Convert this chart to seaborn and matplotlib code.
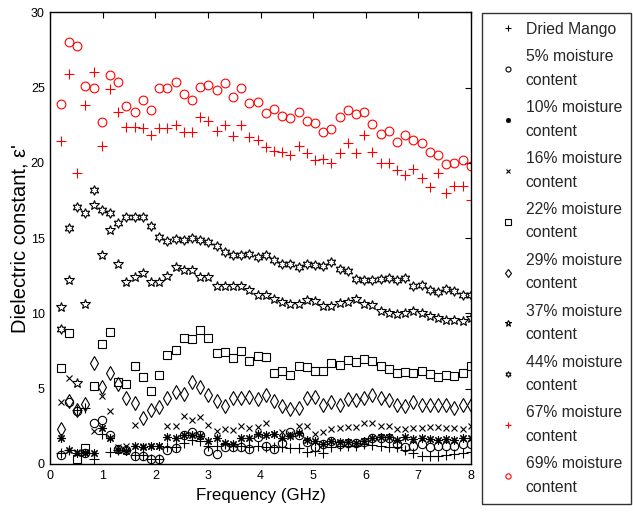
import matplotlib
matplotlib.use("Agg")
import matplotlib.pyplot as plt
import seaborn as sns

FREQ = [0.2, 0.356, 0.512, 0.668, 0.824, 0.98, 1.136, 1.292, 1.448, 1.604,
        1.76, 1.916, 2.072, 2.228, 2.384, 2.54, 2.696, 2.852, 3.008, 3.164,
        3.32, 3.476, 3.632, 3.788, 3.944, 4.1, 4.256, 4.412, 4.568, 4.724,
        4.88, 5.036, 5.192, 5.348, 5.504, 5.66, 5.816, 5.972, 6.128, 6.284,
        6.44, 6.596, 6.752, 6.908, 7.064, 7.22, 7.376, 7.532, 7.688, 7.844, 8.0]

DRIED = [0.7, 0.9, 3.6, 3.7, 0.3, 2.0, 0.8, 0.9, 0.9, 0.6, 0.6, 0.3, 0.3, 1.1, 1.1, 1.4, 1.6,
         1.5, 1.2, 1.2, 1.3, 1.2, 1.2, 1.15,
         1.2, 1.15, 1.1, 1.1, 1.05, 1.05, 0.8, 0.85, 0.7, 1.1, 1.2, 1.2, 1.2, 1.3, 1.25, 1.2,
         1.1, 1.1, 0.9, 0.7, 0.55, 0.55, 0.55, 0.6, 0.65, 0.7, 0.8]
M05 = [0.6, 4.1, 3.55, 0.75, 2.7, 2.9, 1.9, 1.0, 0.9, 0.55, 0.5, 0.3, 0.35, 0.95, 1.05, 1.95,
       2.1, 1.9, 0.85, 0.65, 1.1, 1.15, 1.1, 1.0,
       1.8, 1.2, 1.0, 1.4, 2.15, 1.95, 1.45, 1.1, 1.3, 1.5, 1.35, 1.4, 1.4, 1.45, 1.7, 1.75,
       1.75, 1.35, 1.1, 1.2, 1.3, 1.15, 1.2, 1.2, 1.2, 1.3, 1.3]
M10 = [1.75, 0.9, 0.7, 0.75, 0.7, 2.4, 1.75, 0.95, 0.85, 1.2, 1.15, 1.2, 1.2, 1.8, 1.75, 1.95,
       1.9, 1.85, 1.55, 1.75, 1.4, 1.3, 1.75, 1.75,
       2.0, 1.9, 2.0, 1.75, 1.85, 2.05, 1.6, 1.55, 1.3, 1.55, 1.45, 1.45, 1.4, 1.55, 1.75, 1.8,
       1.8, 1.6, 1.8, 1.65, 1.75, 1.65, 1.6, 1.65, 1.6, 1.75, 1.7]
M16 = [4.1, 5.7, 0.8, 0.8, 2.2, 4.5, 3.5, 1.1, 1.2, 2.6, 1.2, 1.2, 1.2, 2.55, 2.5, 3.2, 2.9,
       3.1, 2.6, 2.2, 2.3, 2.25, 2.5, 2.4,
       2.45, 2.75, 2.0, 2.1, 2.0, 2.55, 2.5, 2.0, 2.1, 2.3, 2.4, 2.45, 2.45, 2.7, 2.75, 2.55,
       2.5, 2.3, 2.35, 2.4, 2.4, 2.45, 2.45, 2.4, 2.4, 2.3, 2.5]
M22 = [6.4, 8.7, 0.35, 1.05, 5.2, 8.0, 8.75, 5.45, 5.3, 6.5, 5.8, 4.85, 5.9, 7.25, 7.6, 8.4,
       8.3, 8.9, 8.4, 7.35, 7.45, 7.05, 7.5, 6.85,
       7.15, 7.1, 6.05, 6.15, 5.9, 6.5, 6.45, 6.2, 6.15, 6.7, 6.55, 6.9, 6.75, 7.0, 6.85, 6.5,
       6.3, 6.05, 6.1, 6.05, 6.2, 5.95, 5.8, 5.9, 5.85, 6.05, 6.5]
M29 = [2.35, 4.2, 3.6, 4.0, 6.7, 5.1, 6.05, 5.3, 4.4, 4.05, 3.05, 3.6, 3.8, 4.35, 4.75, 4.65,
       5.45, 5.1, 4.6, 4.15, 3.85, 4.35, 4.4, 4.45,
       4.3, 4.55, 4.2, 3.85, 3.65, 3.75, 4.4, 4.45, 3.95, 4.1, 3.9, 4.3, 4.25, 4.4, 4.55, 4.35,
       4.25, 3.95, 3.85, 4.1, 3.9, 3.95, 3.9, 3.95, 3.75, 3.95, 3.95]
M37 = [10.4, 12.2, 5.4, 10.6, 17.2, 13.85, 15.55, 13.3, 12.1, 12.4, 12.7, 12.1, 12.1, 12.5,
       13.05, 12.9, 12.9, 12.45, 12.4, 11.8, 11.85, 11.8, 11.8, 11.55,
       11.2, 11.25, 10.95, 10.75, 10.6, 10.65, 10.9, 10.8, 10.5, 10.5, 10.7, 10.75, 10.95, 10.6,
       10.55, 10.15, 10.0, 9.95, 10.05, 10.15, 10.05, 9.85, 9.7, 9.55, 9.55, 9.5, 9.7]
M44 = [8.98, 15.7, 17.05, 16.7, 18.2, 16.9, 16.7, 16.0, 16.4, 16.4, 16.4, 15.8, 15.1, 14.8,
       14.95, 14.85, 15.0, 14.9, 14.75, 14.45, 14.05, 13.9, 13.85, 13.95,
       13.75, 13.9, 13.55, 13.3, 13.25, 13.1, 13.25, 13.2, 13.15, 13.4, 12.95, 12.85, 12.3, 12.25,
       12.25, 12.3, 12.35, 12.2, 12.35, 11.85, 11.9, 11.55, 11.4, 11.6, 11.5, 11.25, 11.25]
M67 = [21.45, 25.9, 19.3, 23.85, 26.05, 21.1, 24.9, 23.4, 22.35, 22.35, 22.3, 21.85, 22.3, 22.3,
       22.5, 22.05, 22.05, 23.05, 22.75, 22.1, 22.5, 21.8,
       22.5, 21.7, 21.5, 21.05, 20.8, 20.75, 20.55, 21.15, 20.65, 20.2, 20.25, 20.0, 20.65, 21.35,
       20.65, 21.85, 20.75, 20.0, 20.0, 19.5, 19.2, 19.6, 19.0, 18.4, 19.35, 18.0, 18.45, 18.45, 17.55]
M69 = [23.9, 28.0, 27.75, 25.1, 25.0, 22.7, 25.85, 25.35, 23.8, 23.35, 24.2, 23.5, 25.0, 25.0,
       25.35, 24.55, 24.2, 25.05, 25.2, 24.85, 25.3, 24.35, 25.0, 23.95, 24.05, 23.3, 23.6, 23.1,
       22.95, 23.35, 22.8, 22.65, 22.05, 22.25, 23.05, 23.5, 23.25, 23.4, 22.55, 21.9, 22.1, 21.4,
       21.85, 21.55, 21.3, 20.7, 20.55, 19.95, 20.0, 20.2, 19.8]

LABELS = ["Dried Mango", "5% moisture\ncontent", "10% moisture\ncontent",
          "16% moisture\ncontent", "22% moisture\ncontent", "29% moisture\ncontent",
          "37% moisture\ncontent", "44% moisture\ncontent", "67% moisture\ncontent",
          "69% moisture\ncontent"]
X_TICKS = [0, 1, 2, 3, 4, 5, 6, 7, 8]
Y_TICKS = [0, 5, 10, 15, 20, 25, 30]

SERIES = [DRIED, M05, M10, M16, M22, M29, M37, M44, M67, M69]
STYLES = [  # marker, size, color
    ("+", 6.5, "black"),
    ("o", 6.0, "black"),
    ((8, 2, 0), 6.0, "black"),
    ("x", 3.8, "black"),
    ("s", 6.3, "black"),
    ("d", 7.5, "black"),
    ("*", 7.5, "black"),
    ((6, 1, 0), 7.0, "black"),
    ("+", 7.0, "red"),
    ("o", 6.3, "red"),
]

sns.set_theme(style="white")
plt.rcParams["font.family"] = ["Liberation Sans", "DejaVu Sans"]

fig = plt.figure(figsize=(6.33, 5.12), dpi=100)
ax = fig.add_axes([0.0795, 0.0938, 0.6641, 0.8822])

handles = []
for vals, (mk, ms, col) in zip(SERIES, STYLES):
    sns.lineplot(x=FREQ, y=vals, ax=ax, linestyle="", marker=mk, markersize=ms,
                 markeredgecolor=col, markerfacecolor="none", markeredgewidth=0.8,
                 color=col, legend=False)
    handles.append(ax.lines[-1])

ax.set_xlim(0, 8)
ax.set_ylim(0, 30)
ax.set_xticks(X_TICKS)
ax.set_yticks(Y_TICKS)
ax.tick_params(direction="in", top=True, right=True, length=4, width=0.8,
               labelsize=9, colors="black", pad=4)
for sp in ax.spines.values():
    sp.set_color("black")
    sp.set_linewidth(1.0)
ax.set_xlabel("Frequency (GHz)", fontsize=12.2, color="black", labelpad=5)
ax.set_ylabel("Dielectric constant, ε'", fontsize=14.5, color="black", labelpad=1)

leg = fig.legend(handles, LABELS, loc="upper left", bbox_to_anchor=(0.7615, 0.9746),
                 fontsize=11.3, markerscale=0.6, frameon=True, fancybox=False,
                 borderpad=0.55, handlelength=2.15, handletextpad=0.08, labelspacing=0.77,
                 borderaxespad=0)
leg.get_frame().set_edgecolor("black")
leg.get_frame().set_linewidth(1.0)
for t in leg.get_texts():
    t.set_linespacing(1.74)

fig.savefig("out.png", dpi=100, facecolor="white")
